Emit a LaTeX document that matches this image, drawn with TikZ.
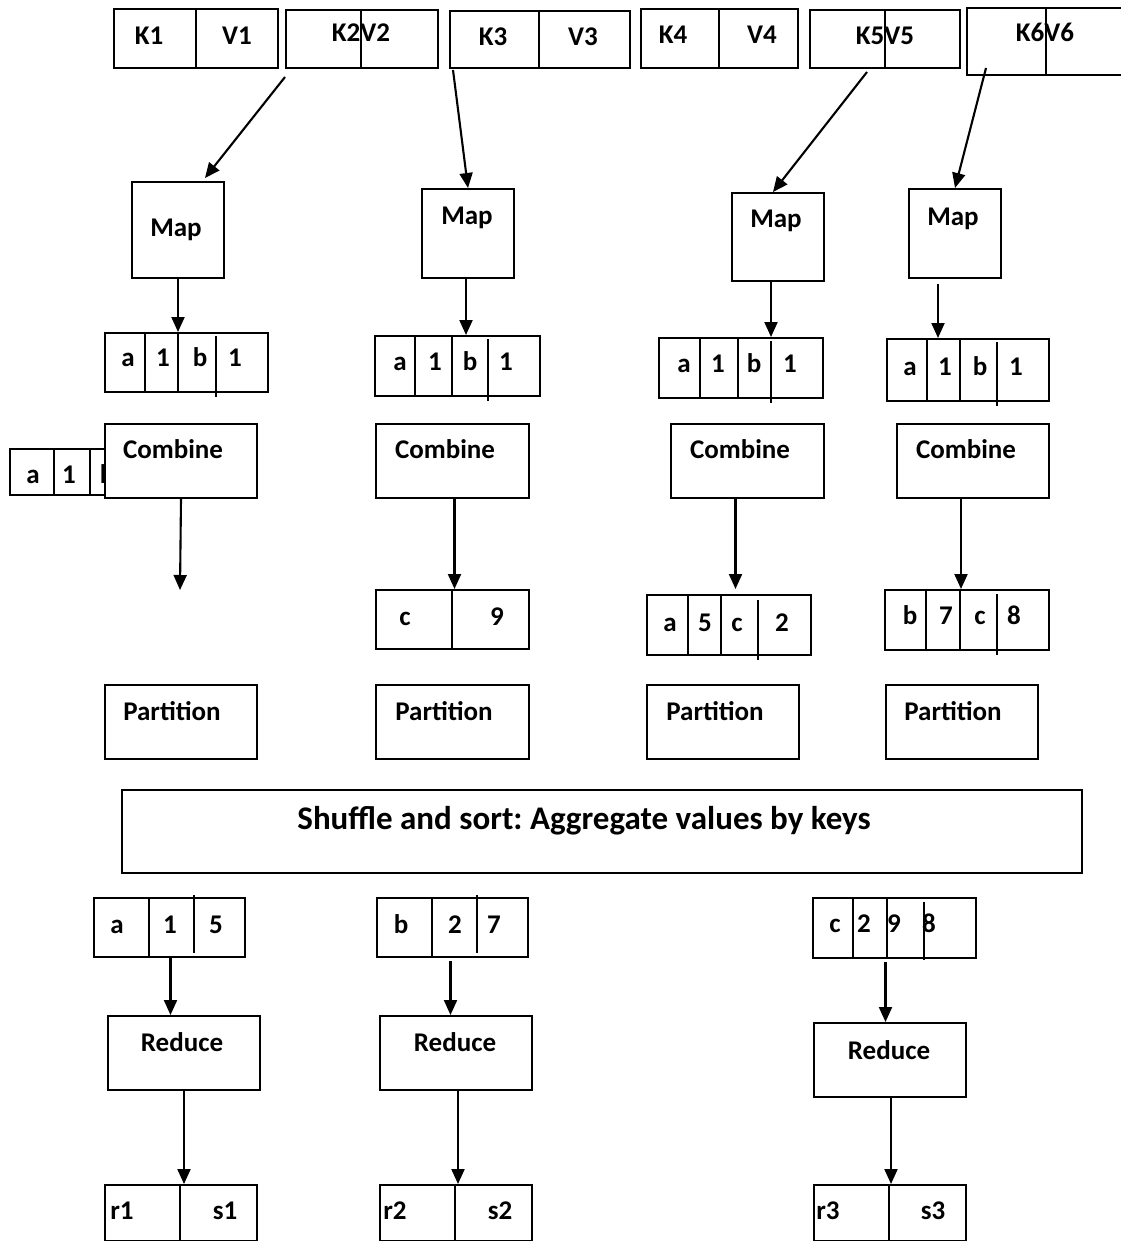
\documentclass[tikz,border=0pt]{standalone}
\usepackage{fontspec}
\setmainfont{Carlito}
\usetikzlibrary{arrows.meta,calc}
\tikzset{
  box/.style={draw, line width=2pt, fill=white, inner sep=0pt},
  lbl/.style={font=\bfseries\fontsize{27}{30}\selectfont, inner sep=0pt, anchor=base},
  big/.style={font=\bfseries\frenchspacing\fontsize{33}{38}\selectfont, inner sep=0pt, anchor=base},
  arr/.style={line width=2.1pt, -{Triangle[length=15pt,width=13pt]}},
  dv/.style={line width=1.7pt},
  dvk/.style={line width=2.6pt},
}
\newcommand\mybox[5]{\node[box,anchor=north west,minimum width={(#4-#2)*1pt},minimum height={(#5-#3)*1pt}] (#1) at (#2,#3) {};}
\newcommand\mytxt[4]{\node[lbl] (#1) at (#2,{#3+8.5}) {#4};}
\begin{document}
\begin{tikzpicture}[x=1pt,y=-1pt]
\useasboundingbox (0,0) rectangle (1120,1241);
% ---------- top row ----------
\mybox{kv1}{113}{8}{277}{67}
\draw[dv] (196,8) -- (196,67);
\mytxt{tk1}{149}{36}{K1}
\mytxt{tv1}{237}{36}{V1}
\mybox{kv2}{285}{9}{437}{67}
\draw[dv] (361,9) -- (361,67);
\mytxt{tkv2}{361}{33}{K2V2}
\mybox{kv3}{449}{10}{629}{67}
\draw[dv] (539,10) -- (539,67);
\mytxt{tk3}{493}{37}{K3}
\mytxt{tv3}{583}{37}{V3}
\mybox{kv4}{640}{8}{797}{67}
\draw[dv] (719,8) -- (719,67);
\mytxt{tk4}{673}{35}{K4}
\mytxt{tv4}{762}{35}{V4}
\mybox{kv5}{809}{9}{959}{67}
\draw[dv] (885,9) -- (885,67);
\mytxt{tkv5}{885}{36}{K5V5}
\mybox{kv6}{966}{7}{1135}{74}
\draw[dv] (1046,7) -- (1046,74);
\mytxt{tkv6}{1045}{33}{K6V6}
% ---------- map ----------
\mybox{m1}{131}{181}{223}{277}
\mytxt{tm1}{176}{228}{Map}
\mybox{m2}{421}{188}{513}{277}
\mytxt{tm2}{467}{216}{Map}
\mybox{m3}{731}{192}{823}{280}
\mytxt{tm3}{776}{219}{Map}
\mybox{m4}{908}{188}{1000}{277}
\mytxt{tm4}{953}{217}{Map}
% ---------- map output ----------
\mybox{ab1}{104}{332}{267}{391}
\draw[dvk] (145,332) -- (145,392);
\draw[dv] (178,332) -- (178,391);
\draw[dvk] (216,336) -- (216,397);
\mytxt{a1a}{128}{358}{a}\mytxt{a1b}{163}{358}{1}\mytxt{a1c}{200}{358}{b}\mytxt{a1d}{235}{358}{1}
\mybox{ab2}{374}{335}{539}{395}
\draw[dvk] (415,335) -- (415,396);
\draw[dv] (452,335) -- (452,395);
\draw[dvk] (488,339) -- (488,401);
\mytxt{a2a}{400}{362}{a}\mytxt{a2b}{435}{362}{1}\mytxt{a2c}{470}{362}{b}\mytxt{a2d}{506}{362}{1}
\mybox{ab3}{658}{337}{822}{397}
\draw[dvk] (700,337) -- (700,398);
\draw[dv] (738,337) -- (738,397);
\draw[dvk] (771,341) -- (771,403);
\mytxt{a3a}{684}{364}{a}\mytxt{a3b}{718}{364}{1}\mytxt{a3c}{754}{364}{b}\mytxt{a3d}{790}{364}{1}
\mybox{ab4}{886}{338}{1048}{400}
\draw[dv] (927,338) -- (927,401);
\draw[dv] (960,338) -- (960,400);
\draw[dv] (997,342) -- (997,406);
\mytxt{a4a}{910}{367}{a}\mytxt{a4b}{945}{367}{1}\mytxt{a4c}{980}{367}{b}\mytxt{a4d}{1016}{367}{1}
% ---------- partial box behind Combine ----------
\mybox{lp}{9}{448}{170}{494}
\draw[dv] (54,448) -- (54,494);
\draw[dv] (90,448) -- (90,494);
\mytxt{lpa}{33}{475}{a}\mytxt{lpb}{69}{475}{1}\mytxt{lpc}{107}{475}{b}
% ---------- combine ----------
\mybox{c1}{104}{423}{256}{497}
\mytxt{tc1}{173}{450}{Combine}
\mybox{c2}{375}{423}{528}{497}
\mytxt{tc2}{445}{450}{Combine}
\mybox{c3}{670}{423}{823}{497}
\mytxt{tc3}{740}{450}{Combine}
\mybox{c4}{896}{423}{1048}{497}
\mytxt{tc4}{966}{450}{Combine}
% ---------- combine output ----------
\coordinate (e1) at (180,590);
\mybox{cn2}{375}{589}{528}{648}
\draw[dv] (452,589) -- (452,648);
\mytxt{n2a}{405}{617}{c}\mytxt{n2b}{497}{617}{9}
\mybox{cn3}{646}{594}{810}{654}
\draw[dv] (688,594) -- (688,656);
\draw[dvk] (721,594) -- (721,654);
\draw[dv] (758,600) -- (758,660);
\mytxt{n3a}{670}{623}{a}\mytxt{n3b}{705}{623}{5}\mytxt{n3c}{737}{623}{c}\mytxt{n3d}{782}{623}{2}
\mybox{cn4}{884}{589}{1048}{649}
\draw[dv] (926,589) -- (926,651);
\draw[dvk] (960,589) -- (960,649);
\draw[dv] (997,594) -- (997,655);
\mytxt{n4a}{910}{616}{b}\mytxt{n4b}{946}{616}{7}\mytxt{n4c}{980}{616}{c}\mytxt{n4d}{1014}{616}{8}
% ---------- partition ----------
\mybox{p1}{104}{684}{256}{758}
\mytxt{tp1}{172}{712}{Partition}
\mybox{p2}{375}{684}{528}{758}
\mytxt{tp2}{444}{712}{Partition}
\mybox{p3}{646}{684}{798}{758}
\mytxt{tp3}{715}{712}{Partition}
\mybox{p4}{885}{684}{1037}{758}
\mytxt{tp4}{953}{712}{Partition}
% ---------- shuffle ----------
\mybox{sh}{121}{789}{1081}{872}
\node[big] (tsh) at (584,829) {Shuffle and sort: Aggregate values by keys};
% ---------- grouped ----------
\mybox{g1}{93}{897}{244}{956}
\draw[dv] (149,897) -- (149,956);
\draw[dv] (194,895) -- (194,953);
\mytxt{g1a}{117}{925}{a}\mytxt{g1b}{170}{925}{1}\mytxt{g1c}{216}{925}{5}
\mybox{g2}{376}{897}{527}{956}
\draw[dv] (432,897) -- (432,956);
\draw[dv] (477,895) -- (477,953);
\mytxt{g2a}{401}{925}{b}\mytxt{g2b}{455}{925}{2}\mytxt{g2c}{494}{925}{7}
\mybox{g3}{812}{897}{975}{957}
\draw[dv] (853,897) -- (853,959);
\draw[dv] (887,897) -- (887,957);
\draw[dv] (924,902) -- (924,960);
\mytxt{g3a}{835}{924}{c}\mytxt{g3b}{864}{924}{2}\mytxt{g3c}{894}{924}{9}\mytxt{g3d}{929}{924}{8}
% ---------- reduce ----------
\mybox{r1}{107}{1015}{259}{1089}
\mytxt{tr1}{182}{1043}{Reduce}
\mybox{r2}{379}{1015}{531}{1089}
\mytxt{tr2}{455}{1043}{Reduce}
\mybox{r3}{813}{1022}{965}{1096}
\mytxt{tr3}{889}{1051}{Reduce}
% ---------- output ----------
\mybox{o1}{104}{1184}{256}{1240}
\draw[dv] (180,1184) -- (180,1240);
\mytxt{o1a}{122}{1211}{r1}\mytxt{o1b}{225}{1211}{s1}
\mybox{o2}{379}{1184}{531}{1240}
\draw[dv] (455,1184) -- (455,1240);
\mytxt{o2a}{395}{1211}{r2}\mytxt{o2b}{500}{1211}{s2}
\mybox{o3}{813}{1184}{965}{1240}
\draw[dv] (889,1184) -- (889,1240);
\mytxt{o3a}{828}{1211}{r3}\mytxt{o3b}{933}{1211}{s3}
% ---------- connectors ----------
\draw[arr] ([yshift=-8pt]kv2.south west) -- ([xshift=74pt,yshift=3pt]m1.north west);
\draw[arr] ([xshift=4pt,yshift=-1pt]kv3.south west) -- (m2.north);
\draw[arr] ([xshift=58pt,yshift=-3pt]kv5.south west) -- ([xshift=-5pt]m3.north);
\draw[arr] ([xshift=20pt,yshift=8pt]kv6.south west) -- (m4.north);
\draw[arr] (m1.south) -- (m1.south |- ab1.north);
\draw[arr] ([xshift=-2pt]m2.south) -- ([xshift=-2pt]m2.south |- ab2.north);
\draw[arr] ([xshift=-7pt]m3.south) -- ([xshift=-7pt]m3.south |- ab3.north);
\draw[arr] ([xshift=-17pt,yshift=-5pt]m4.south) -- ([xshift=-17pt]m4.south |- ab4.north);
\draw[arr] (c1.south) -- (e1);
\draw[arr] ([xshift=2pt]c2.south) -- ([xshift=2pt]c2.south |- cn2.north);
\draw[arr] ([xshift=-12pt]c3.south) -- ([xshift=-12pt,yshift=5pt]c3.south |- cn3.north);
\draw[arr] ([xshift=-12pt]c4.south) -- ([xshift=-12pt]c4.south |- cn4.north);
\draw[arr] ([xshift=1pt]g1.south) -- ([xshift=1pt]g1.south |- r1.north);
\draw[arr] ([xshift=-2pt,yshift=-3pt]g2.south) -- ([xshift=-2pt]g2.south |- r2.north);
\draw[arr] ([xshift=-9pt,yshift=-3pt]g3.south) -- ([xshift=-9pt]g3.south |- r3.north);
\draw[arr] (r1.south) -- (r1.south |- o1.north);
\draw[arr] ([xshift=2pt]r2.south) -- ([xshift=2pt]r2.south |- o2.north);
\draw[arr] ([xshift=1pt]r3.south) -- ([xshift=1pt]r3.south |- o3.north);
\end{tikzpicture}
\end{document}
